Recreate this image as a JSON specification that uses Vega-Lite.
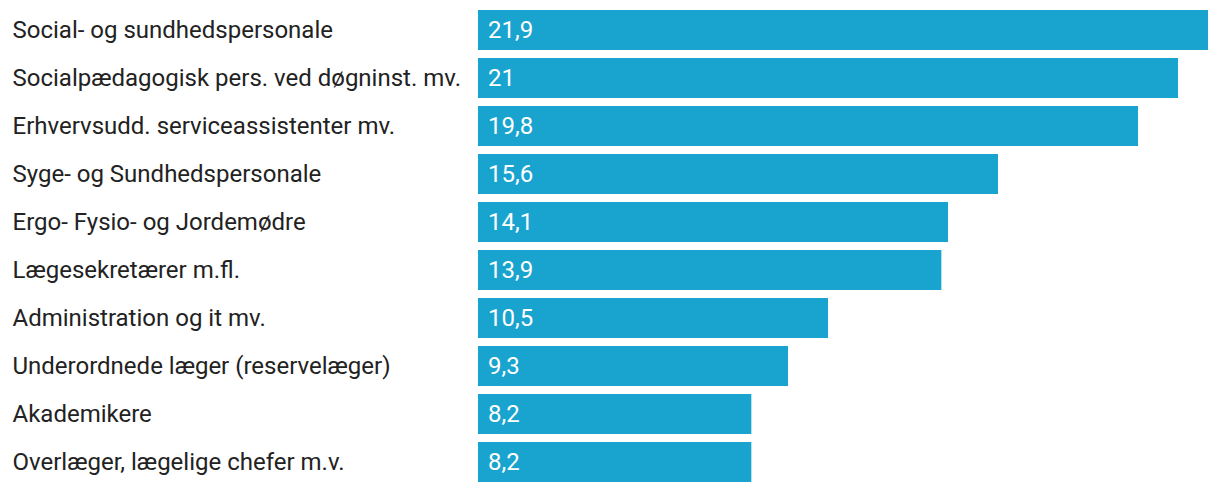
{
  "$schema": "https://vega.github.io/schema/vega-lite/v6.json",
  "width": 730,
  "height": 480,
  "autosize": "none",
  "padding": {"left": 478, "top": 6, "right": 12, "bottom": 6},
  "background": "white",
  "config": {"view": {"stroke": null}, "font": "Roboto"},
  "data": {
    "values": [
      {"cat": "Social- og sundhedspersonale", "value": 21.9, "label": "21,9"},
      {"cat": "Socialpædagogisk pers. ved døgninst. mv.", "value": 21.0, "label": "21"},
      {"cat": "Erhvervsudd. serviceassistenter mv.", "value": 19.8, "label": "19,8"},
      {"cat": "Syge- og Sundhedspersonale", "value": 15.6, "label": "15,6"},
      {"cat": "Ergo- Fysio- og Jordemødre", "value": 14.1, "label": "14,1"},
      {"cat": "Lægesekretærer m.fl.", "value": 13.9, "label": "13,9"},
      {"cat": "Administration og it mv.", "value": 10.5, "label": "10,5"},
      {"cat": "Underordnede læger (reservelæger)", "value": 9.3, "label": "9,3"},
      {"cat": "Akademikere", "value": 8.2, "label": "8,2"},
      {"cat": "Overlæger, lægelige chefer m.v.", "value": 8.2, "label": "8,2"}
    ]
  },
  "encoding": {
    "y": {
      "field": "cat",
      "type": "nominal",
      "sort": null,
      "scale": {"paddingInner": 0.1667, "paddingOuter": 0.0833},
      "axis": {
        "title": null,
        "domain": false,
        "ticks": false,
        "labelAlign": "left",
        "labelPadding": 466,
        "labelFontSize": 24,
        "labelFont": "Roboto",
        "labelColor": "#222222",
        "labelLimit": 0,
        "labelOffset": 1
      }
    }
  },
  "layer": [
    {
      "mark": {"type": "bar", "color": "#19a3cf"},
      "encoding": {
        "x": {
          "field": "value",
          "type": "quantitative",
          "scale": {"domain": [0, 21.9], "nice": false, "zero": true},
          "axis": null
        }
      }
    },
    {
      "mark": {"type": "text", "align": "left", "baseline": "middle", "dx": 10, "dy": 1, "color": "white", "fontSize": 24, "font": "Roboto"},
      "encoding": {
        "x": {"datum": 0, "type": "quantitative"},
        "text": {"field": "label"}
      }
    }
  ]
}
